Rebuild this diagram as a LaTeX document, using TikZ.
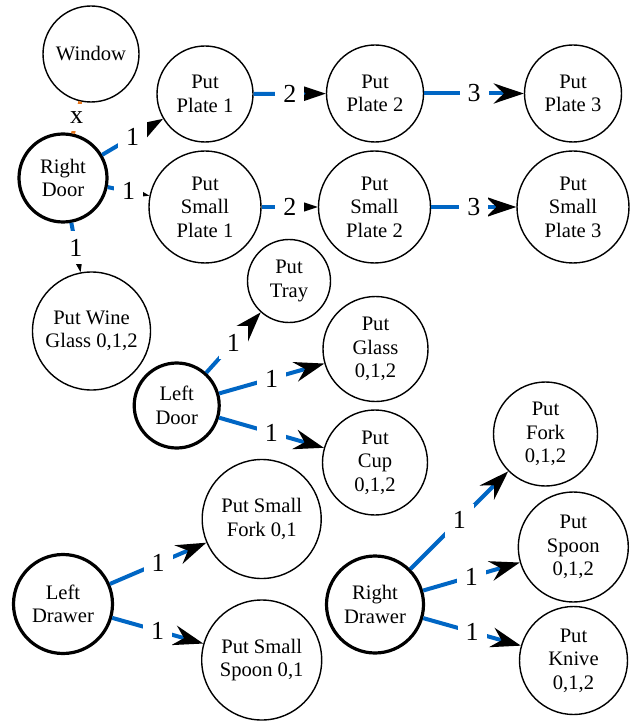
\documentclass[tikz,border=0pt]{standalone}
\usepackage{fontspec}
\setmainfont{Liberation Serif}
\usetikzlibrary{arrows.meta}
\definecolor{edgeblue}{RGB}{0,102,196}
\definecolor{edgeorange}{RGB}{232,120,30}
\newcommand{\nodefnt}{\fontsize{10.3}{11.7}\selectfont}
\newcommand{\labfnt}{\fontsize{13}{15}\selectfont}
\tikzset{
  stn/.style={circle, draw=black, line width=0.7pt, inner sep=0pt,
    minimum size=#1*0.5pt, align=center, font=\nodefnt},
  thk/.style={stn=#1, line width=1.6pt},
  edg/.style={draw=edgeblue, line width=2pt,
    -{Stealth[length=15pt,width=10pt,inset=5pt,color=black]}},
  oedg/.style={draw=edgeorange, line width=2pt},
  lab/.style={fill=white, inner sep=4pt, font=\labfnt, midway}
}
\begin{document}
\begin{tikzpicture}[x=0.5pt,y=-0.5pt]
\useasboundingbox (0,0) rectangle (632,721);
% nodes
\node[stn=96] (win) at (91,54) {Window};
\node[thk=88] (rd) at (63,178) {Right\\Door};
\node[stn=96] (p1) at (205,94) {Put\\Plate 1};
\node[stn=97] (p2) at (375,93.5) {Put\\Plate 2};
\node[stn=97] (p3) at (573,93.5) {Put\\Plate 3};
\node[stn=112] (sp1) at (205,207) {Put\\Small\\Plate 1};
\node[stn=112] (sp2) at (374.5,207) {Put\\Small\\Plate 2};
\node[stn=112] (sp3) at (573,207) {Put\\Small\\Plate 3};
\node[stn=118] (wine) at (91.5,331) {Put Wine\\Glass 0,1,2};
\node[stn=83] (tray) at (289,281) {Put\\Tray};
\node[thk=85] (ld) at (176.7,405.5) {Left\\Door};
\node[stn=105] (glass) at (375.5,349) {Put\\Glass\\0,1,2};
\node[stn=105] (cup) at (375,462.5) {Put\\Cup\\0,1,2};
\node[stn=119] (sfork) at (261.7,519) {Put Small\\Fork 0,1};
\node[stn=120] (sspoon) at (261.7,660) {Put Small\\Spoon 0,1};
\node[thk=99] (ldr) at (63,604) {Left\\Drawer};
\node[thk=97] (rdr) at (375,604.5) {Right\\Drawer};
\node[stn=104] (fork) at (545.5,434) {Put\\Fork\\0,1,2};
\node[stn=110] (spoon) at (573.3,547) {Put\\Spoon\\0,1,2};
\node[stn=108] (knive) at (573.5,660.5) {Put\\Knive\\0,1,2};
% edges
\draw[oedg] (rd) -- node[lab, inner sep=3.6pt] {x} (win);
\draw[edg] (rd) -- node[lab] {1} (p1);
\draw[edg] (rd) -- node[lab] {1} (sp1);
\draw[edg] (rd) -- node[lab] {1} (wine);
\draw[edg] (p1) -- node[lab] {2} (p2);
\draw[edg] (p2) -- node[lab] {3} (p3);
\draw[edg] (sp1) -- node[lab] {2} (sp2);
\draw[edg] (sp2) -- node[lab] {3} (sp3);
\draw[edg] (ld) -- node[lab] {1} (tray);
\draw[edg] (ld) -- node[lab] {1} (glass);
\draw[edg] (ld) -- node[lab] {1} (cup);
\draw[edg] (ldr) -- node[lab] {1} (sfork);
\draw[edg] (ldr) -- node[lab] {1} (sspoon);
\draw[edg] (rdr) -- node[lab] {1} (fork);
\draw[edg] (rdr) -- node[lab] {1} (spoon);
\draw[edg] (rdr) -- node[lab] {1} (knive);
\end{tikzpicture}
\end{document}
